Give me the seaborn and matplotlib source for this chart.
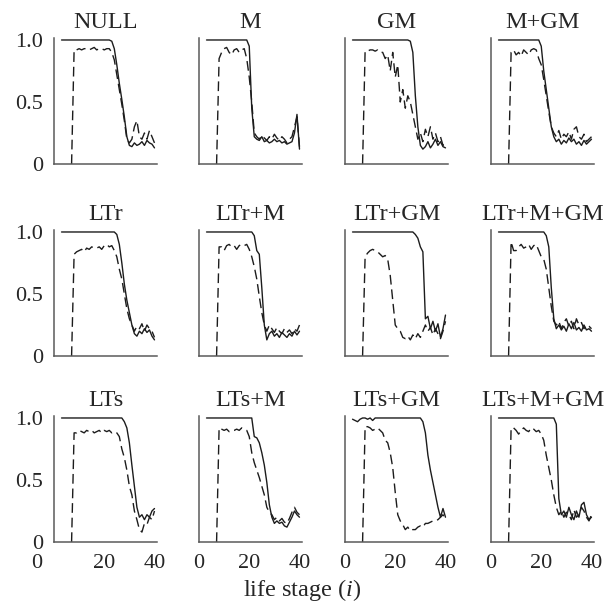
import numpy as np
import pandas as pd
import seaborn as sns
import matplotlib
matplotlib.use("Agg")
import matplotlib.pyplot as plt
import matplotlib.transforms as mtransforms

# ---- data -------------------------------------------------------------
# life stages: solid series starts at stage 3, dashed series at stage 7
solid_start = 3
dashed_start = 7

titles = ["NULL", "M", "GM", "M+GM",
          "LTr", "LTr+M", "LTr+GM", "LTr+M+GM",
          "LTs", "LTs+M", "LTs+GM", "LTs+M+GM"]

null_solid = [1.0, 1.0, 1.0, 1.0, 1.0, 1.0, 1.0, 1.0, 1.0, 1.0, 1.0, 1.0, 1.0, 1.0, 1.0, 1.0, 1.0, 1.0, 1.0, 1.0,
              0.99, 0.93, 0.80, 0.65, 0.52, 0.38, 0.22, 0.15, 0.14, 0.17, 0.15, 0.16, 0.18, 0.15, 0.19, 0.17, 0.16, 0.13]
null_dashed = [0.0, 0.92, 0.92, 0.93, 0.92, 0.93, 0.93, 0.92, 0.93, 0.94, 0.92, 0.93, 0.93, 0.92, 0.93, 0.93, 0.90,
               0.84, 0.72, 0.60, 0.48, 0.35, 0.20, 0.17, 0.20, 0.30, 0.35, 0.22, 0.20, 0.25, 0.20, 0.27, 0.22, 0.17]

m_solid = [1.0, 1.0, 1.0, 1.0, 1.0, 1.0, 1.0, 1.0, 1.0, 1.0, 1.0, 1.0, 1.0, 1.0, 1.0, 1.0, 1.0,
           0.95, 0.45, 0.22, 0.20, 0.19, 0.22, 0.18, 0.19, 0.17, 0.18, 0.20, 0.18, 0.19, 0.17, 0.18, 0.16, 0.17,
           0.18, 0.25, 0.40, 0.12]
m_dashed = [0.0, 0.85, 0.90, 0.93, 0.94, 0.90, 0.88, 0.92, 0.93, 0.90, 0.92, 0.93, 0.85, 0.70, 0.50, 0.25, 0.22,
            0.20, 0.23, 0.21, 0.19, 0.22, 0.20, 0.24, 0.21, 0.19, 0.22, 0.20, 0.17, 0.20, 0.22, 0.30, 0.38, 0.14]

gm_solid = [1.0, 1.0, 1.0, 1.0, 1.0, 1.0, 1.0, 1.0, 1.0, 1.0, 1.0, 1.0, 1.0, 1.0, 1.0, 1.0, 1.0, 1.0, 1.0, 1.0,
            1.0, 1.0, 1.0, 0.99, 0.90, 0.55, 0.30, 0.15, 0.12, 0.14, 0.18, 0.13, 0.16, 0.20, 0.15, 0.18, 0.14, 0.13]
gm_dashed = [0.0, 0.91, 0.91, 0.92, 0.92, 0.91, 0.92, 0.90, 0.90, 0.85, 0.88, 0.75, 0.90, 0.70, 0.80, 0.50, 0.60,
             0.45, 0.55, 0.50, 0.40, 0.30, 0.20, 0.25, 0.18, 0.28, 0.22, 0.30, 0.20, 0.25, 0.18, 0.22, 0.15, 0.17]

mgm_solid = [1.0, 1.0, 1.0, 1.0, 1.0, 1.0, 1.0, 1.0, 1.0, 1.0, 1.0, 1.0, 1.0, 1.0, 1.0, 1.0, 1.0,
             0.95, 0.75, 0.60, 0.45, 0.30, 0.22, 0.18, 0.20, 0.16, 0.19, 0.17, 0.21, 0.18, 0.20, 0.16, 0.18, 0.15,
             0.19, 0.16, 0.18, 0.20]
mgm_dashed = [0.0, 0.90, 0.92, 0.88, 0.90, 0.87, 0.92, 0.90, 0.88, 0.92, 0.93, 0.92, 0.85, 0.80, 0.68, 0.55, 0.42,
              0.30, 0.25, 0.22, 0.27, 0.20, 0.24, 0.22, 0.26, 0.20, 0.28, 0.30, 0.22, 0.20, 0.24, 0.18, 0.20, 0.22]

ltr_solid = [1.0, 1.0, 1.0, 1.0, 1.0, 1.0, 1.0, 1.0, 1.0, 1.0, 1.0, 1.0, 1.0, 1.0, 1.0, 1.0, 1.0, 1.0, 1.0, 1.0,
             1.0, 1.0, 0.98, 0.90, 0.75, 0.58, 0.45, 0.35, 0.25, 0.18, 0.16, 0.20, 0.18, 0.22, 0.19, 0.21, 0.16, 0.13]
ltr_dashed = [0.0, 0.82, 0.84, 0.85, 0.86, 0.84, 0.87, 0.86, 0.88, 0.87, 0.87, 0.88, 0.86, 0.89, 0.90, 0.88, 0.89,
              0.85, 0.80, 0.70, 0.62, 0.50, 0.38, 0.30, 0.25, 0.20, 0.24, 0.22, 0.26, 0.20, 0.25, 0.22, 0.20, 0.15]

ltrm_solid = [1.0, 1.0, 1.0, 1.0, 1.0, 1.0, 1.0, 1.0, 1.0, 1.0, 1.0, 1.0, 1.0, 1.0, 1.0, 1.0, 1.0, 1.0, 1.0,
              0.97, 0.85, 0.82, 0.55, 0.25, 0.13, 0.18, 0.20, 0.16, 0.18, 0.15, 0.19, 0.17, 0.15, 0.18, 0.16, 0.20,
              0.17, 0.20]
ltrm_dashed = [0.0, 0.88, 0.88, 0.85, 0.89, 0.90, 0.88, 0.89, 0.86, 0.89, 0.90, 0.89, 0.90, 0.86, 0.80, 0.72, 0.62,
               0.48, 0.35, 0.25, 0.20, 0.25, 0.22, 0.19, 0.23, 0.20, 0.18, 0.22, 0.19, 0.21, 0.18, 0.22, 0.20, 0.25]

ltrgm_solid = [1.0, 1.0, 1.0, 1.0, 1.0, 1.0, 1.0, 1.0, 1.0, 1.0, 1.0, 1.0, 1.0, 1.0, 1.0, 1.0, 1.0, 1.0, 1.0, 1.0,
               1.0, 1.0, 1.0, 1.0, 1.0, 0.98, 0.95, 0.88, 0.84, 0.30, 0.32, 0.22, 0.28, 0.20, 0.26, 0.15, 0.22, 0.33]
ltrgm_dashed = [0.0, 0.80, 0.83, 0.85, 0.86, 0.85, 0.84, 0.82, 0.80, 0.81, 0.78, 0.65, 0.45, 0.25, 0.22, 0.20, 0.15,
                0.14, 0.16, 0.13, 0.17, 0.14, 0.18, 0.15, 0.20, 0.25, 0.20, 0.23, 0.17, 0.22, 0.18, 0.14, 0.20, 0.28]

ltrmgm_solid = [1.0, 1.0, 1.0, 1.0, 1.0, 1.0, 1.0, 1.0, 1.0, 1.0, 1.0, 1.0, 1.0, 1.0, 1.0, 1.0, 1.0, 1.0, 1.0,
                0.97, 0.88, 0.55, 0.30, 0.22, 0.25, 0.21, 0.24, 0.20, 0.26, 0.22, 0.27, 0.21, 0.23, 0.20, 0.25, 0.21,
                0.22, 0.20]
ltrmgm_dashed = [0.0, 0.92, 0.85, 0.85, 0.88, 0.90, 0.87, 0.88, 0.90, 0.86, 0.89, 0.90, 0.85, 0.80, 0.78, 0.70, 0.55,
                 0.40, 0.28, 0.25, 0.28, 0.22, 0.27, 0.30, 0.24, 0.28, 0.22, 0.30, 0.25, 0.27, 0.22, 0.25, 0.24, 0.22]

lts_solid = [1.0, 1.0, 1.0, 1.0, 1.0, 1.0, 1.0, 1.0, 1.0, 1.0, 1.0, 1.0, 1.0, 1.0, 1.0, 1.0, 1.0, 1.0, 1.0, 1.0,
             1.0, 1.0, 1.0, 1.0, 1.0, 0.97, 0.92, 0.80, 0.62, 0.45, 0.28, 0.20, 0.22, 0.18, 0.22, 0.20, 0.25, 0.27]
lts_dashed = [0.0, 0.88, 0.88, 0.90, 0.89, 0.88, 0.90, 0.89, 0.90, 0.88, 0.89, 0.90, 0.88, 0.90, 0.89, 0.90, 0.88,
              0.89, 0.88, 0.85, 0.75, 0.68, 0.58, 0.45, 0.38, 0.25, 0.18, 0.10, 0.08, 0.15, 0.14, 0.20, 0.18, 0.25]

ltsm_solid = [1.0, 1.0, 1.0, 1.0, 1.0, 1.0, 1.0, 1.0, 1.0, 1.0, 1.0, 1.0, 1.0, 1.0, 1.0, 1.0, 1.0, 1.0, 1.0,
              0.85, 0.84, 0.80, 0.72, 0.62, 0.48, 0.30, 0.20, 0.15, 0.17, 0.15, 0.16, 0.13, 0.12, 0.16, 0.20, 0.25,
              0.22, 0.20]
ltsm_dashed = [0.0, 0.92, 0.91, 0.90, 0.91, 0.89, 0.90, 0.90, 0.91, 0.90, 0.92, 0.91, 0.90, 0.85, 0.72, 0.64, 0.58,
               0.52, 0.45, 0.38, 0.28, 0.24, 0.22, 0.18, 0.20, 0.17, 0.19, 0.16, 0.15, 0.19, 0.24, 0.28, 0.24, 0.22]

ltsgm_solid = [0.99, 0.98, 0.97, 0.99, 1.0, 1.0, 0.99, 1.0, 0.98, 1.0, 1.0, 1.0, 1.0, 1.0, 1.0, 1.0, 1.0, 1.0, 1.0,
               1.0, 1.0, 1.0, 1.0, 1.0, 1.0, 1.0, 1.0, 1.0, 0.97, 0.88, 0.70, 0.58, 0.48, 0.38, 0.28, 0.20, 0.27, 0.20]
ltsgm_dashed = [0.0, 0.93, 0.93, 0.92, 0.90, 0.91, 0.92, 0.90, 0.88, 0.82, 0.80, 0.72, 0.60, 0.40, 0.22, 0.17, 0.14,
                0.10, 0.12, 0.09, 0.10, 0.10, 0.12, 0.13, 0.12, 0.15, 0.15, 0.16, 0.17, 0.17, 0.18, 0.20, 0.22, 0.18]

ltsmgm_solid = [1.0, 1.0, 1.0, 1.0, 1.0, 1.0, 1.0, 1.0, 1.0, 1.0, 1.0, 1.0, 1.0, 1.0, 1.0, 1.0, 1.0, 1.0, 1.0, 1.0,
                1.0, 1.0, 1.0, 0.95, 0.35, 0.22, 0.25, 0.20, 0.28, 0.22, 0.18, 0.25, 0.20, 0.30, 0.32, 0.22, 0.18, 0.20]
ltsmgm_dashed = [0.0, 0.92, 0.92, 0.90, 0.87, 0.90, 0.92, 0.90, 0.89, 0.92, 0.91, 0.89, 0.90, 0.87, 0.82, 0.70, 0.60,
                 0.50, 0.38, 0.28, 0.22, 0.25, 0.20, 0.24, 0.22, 0.18, 0.26, 0.20, 0.22, 0.28, 0.25, 0.20, 0.17, 0.22]

solid_series = [null_solid, m_solid, gm_solid, mgm_solid,
                ltr_solid, ltrm_solid, ltrgm_solid, ltrmgm_solid,
                lts_solid, ltsm_solid, ltsgm_solid, ltsmgm_solid]
dashed_series = [null_dashed, m_dashed, gm_dashed, mgm_dashed,
                 ltr_dashed, ltrm_dashed, ltrgm_dashed, ltrmgm_dashed,
                 lts_dashed, ltsm_dashed, ltsgm_dashed, ltsmgm_dashed]

x_ticks = [0, 20, 40]
x_ticklabels = ["0", "20", "40"]
y_ticks = [0, 0.5, 1.0]
y_ticklabels = ["0", "0.5", "1.0"]

# ---- style ------------------------------------------------------------
sns.set_theme(style="white")
plt.rcParams["font.family"] = ["Liberation Serif", "DejaVu Serif"]
plt.rcParams["mathtext.fontset"] = "custom"
plt.rcParams["mathtext.rm"] = "Liberation Serif"
plt.rcParams["mathtext.it"] = "Liberation Serif:italic"

line_color = "#1c1c1c"
spine_color = "#5a5a5a"
tick_fs = 16
title_fs = 17.5

W, H = 604, 609
fig = plt.figure(figsize=(W / 100, H / 100), dpi=100)
fig.patch.set_facecolor("white")

col_left = [54, 199, 345, 491]
row_bottom = [164, 356, 542]
ax_w, ax_h = 103, 126

for k, title in enumerate(titles):
    r, c = divmod(k, 4)
    ax = fig.add_axes([col_left[c] / W, 1 - row_bottom[r] / H, ax_w / W, ax_h / H])

    solid = solid_series[k]
    dashed = dashed_series[k]
    df = pd.concat([
        pd.DataFrame({"stage": np.arange(solid_start, solid_start + len(solid)),
                      "value": solid, "series": "solid"}),
        pd.DataFrame({"stage": np.arange(dashed_start, dashed_start + len(dashed)),
                      "value": dashed, "series": "dashed"}),
    ], ignore_index=True)

    sns.lineplot(data=df, x="stage", y="value", style="series",
                 dashes={"solid": "", "dashed": (7, 3.5)},
                 color=line_color, linewidth=1.0, estimator=None,
                 legend=False, ax=ax)

    ax.set_xlim(0, 41)
    ax.set_ylim(0, 1.016)
    ax.set_xlabel("")
    ax.set_ylabel("")
    ax.set_title(title, fontsize=title_fs, pad=7)

    for side in ["top", "right"]:
        ax.spines[side].set_visible(False)
    for side in ["left", "bottom"]:
        ax.spines[side].set_color(spine_color)
        ax.spines[side].set_linewidth(1.1)

    ax.set_xticks(x_ticks)
    ax.set_yticks(y_ticks)
    ax.tick_params(axis="x", length=0, pad=9, labelsize=tick_fs)
    ax.tick_params(axis="y", direction="in", length=2.5, width=0.8,
                   color=spine_color, pad=8, labelsize=tick_fs)

    if c == 0:
        ax.set_yticklabels(y_ticklabels)
    else:
        ax.set_yticklabels([])
    if r == 2:
        ax.set_xticklabels(x_ticklabels)
        if c == 0:
            lab0 = ax.get_xticklabels()[0]
            lab0.set_transform(lab0.get_transform() +
                               mtransforms.ScaledTranslation(-17 / 100, 0, fig.dpi_scale_trans))
    else:
        ax.set_xticklabels([])

fig.text(302 / W, 1 - 590 / H, r"life stage ($i$)", ha="center", va="center", fontsize=title_fs)

fig.savefig("out.png", dpi=100, facecolor="white")
